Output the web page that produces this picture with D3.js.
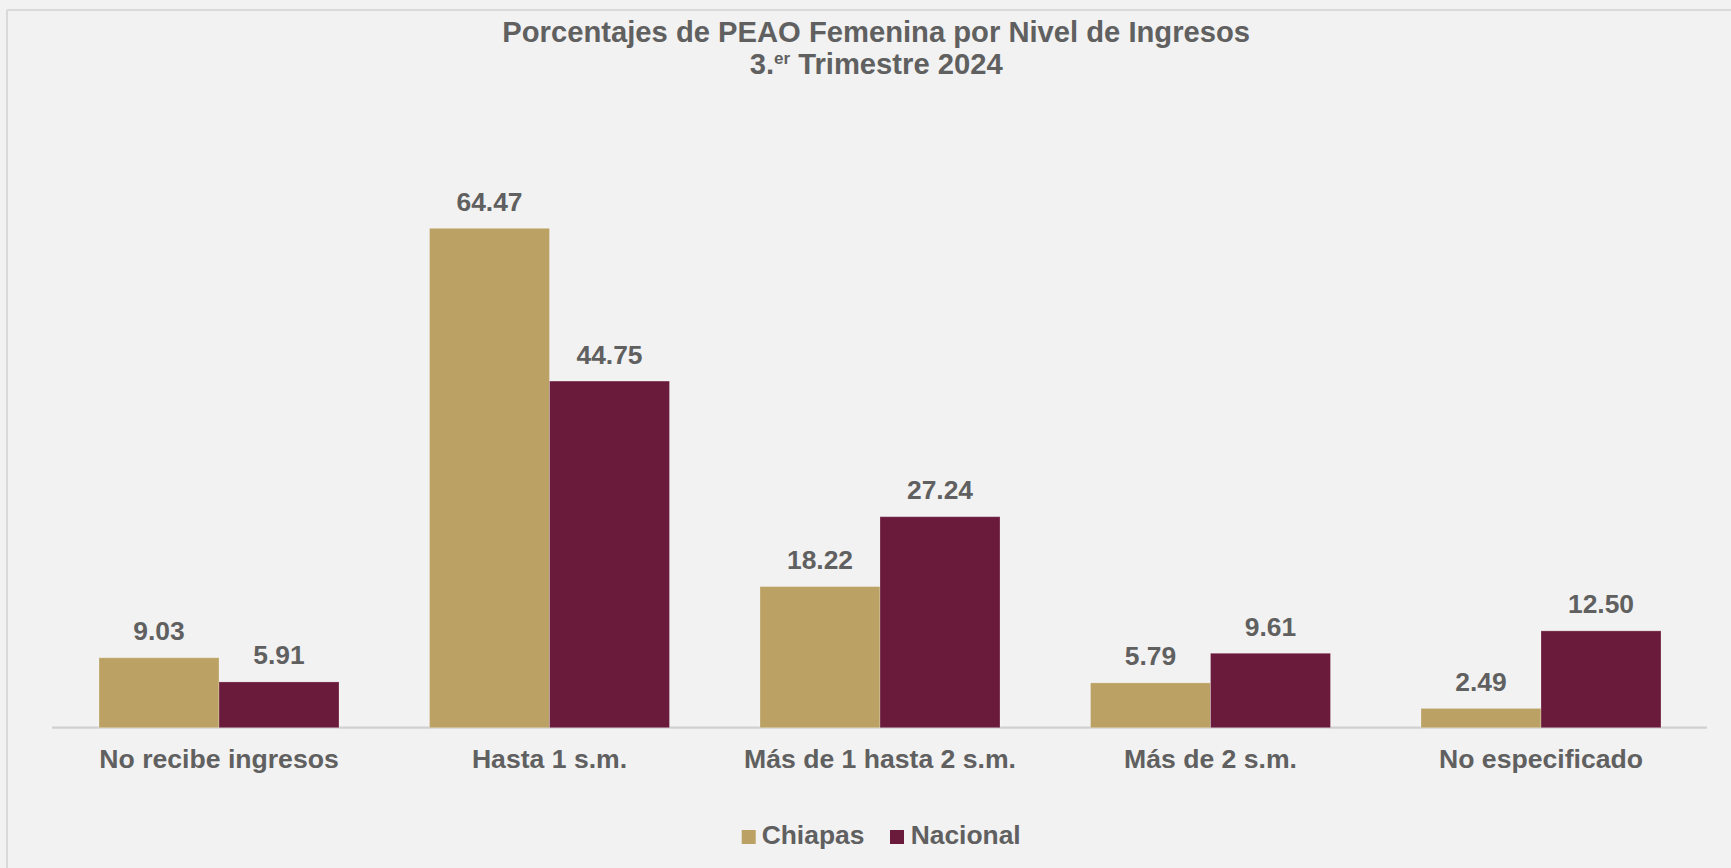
<!DOCTYPE html>
<html>
<head>
<meta charset="utf-8">
<script src="https://cdn.jsdelivr.net/npm/d3@7"></script>
<style>
  html, body { margin: 0; padding: 0; background: #f2f2f2; }
  svg { display: block; }
</style>
</head>
<body>
<svg id="chart" width="1731" height="868"></svg>
<script>
// ---- data ----
const categories = ["No recibe ingresos", "Hasta 1 s.m.", "Más de 1 hasta 2 s.m.", "Más de 2 s.m.", "No especificado"];
const seriesNames = ["Chiapas", "Nacional"];
const chiapasValues = [9.03, 64.47, 18.22, 5.79, 2.49];
const nacionalValues = [5.91, 44.75, 27.24, 9.61, 12.50];
const seriesColors = ["#bba264", "#6a1a3a"];
const titleLine1 = "Porcentajes de PEAO Femenina por Nivel de Ingresos";
const titleLine2Parts = ["3.", "er", " Trimestre 2024"];

// ---- layout ----
const W = 1731, H = 868;
const textColor = "#606060";
const font = "'Liberation Sans', Arial, Helvetica, sans-serif";
const baseY = 727.7;
const plotLeft = 53.75, plotRight = 1706.25;
const groupGap = 45.25;

const svg = d3.select("#chart");
svg.append("rect").attr("width", W).attr("height", H).attr("fill", "#f2f2f2");

// frame (top + left lines)
svg.append("line").attr("x1", 7).attr("x2", W).attr("y1", 10).attr("y2", 10)
  .attr("stroke", "#d9d9d9").attr("stroke-width", 2);
svg.append("line").attr("x1", 7).attr("x2", 7).attr("y1", 10).attr("y2", H)
  .attr("stroke", "#d9d9d9").attr("stroke-width", 2);

const x0 = d3.scaleBand().domain(categories).range([plotLeft, plotRight]).padding(0);
const x1 = d3.scaleBand().domain(seriesNames).range([groupGap, x0.bandwidth() - groupGap]).padding(0);
const pxPerUnit = 7.746;
const y = d3.scaleLinear().domain([0, 70]).range([baseY, baseY - 70 * pxPerUnit]);
const color = d3.scaleOrdinal().domain(seriesNames).range(seriesColors);

const rows = categories.map((c, i) => ({
  cat: c,
  vals: [
    { s: seriesNames[0], v: chiapasValues[i] },
    { s: seriesNames[1], v: nacionalValues[i] }
  ]
}));

// x axis
const axis = svg.append("g").attr("transform", `translate(0,${baseY})`)
  .call(d3.axisBottom(x0).tickSize(0).tickPadding(0));
axis.select(".domain").attr("stroke", "#d0d0d0").attr("stroke-width", 2.2)
  .attr("d", `M52,0H1707`);
axis.selectAll(".tick text")
  .attr("y", 40).attr("dy", 0)
  .attr("font-family", font)
  .attr("font-weight", "bold")
  .attr("font-size", "26.6px")
  .attr("fill", textColor);

const groups = svg.append("g").selectAll("g").data(rows).join("g")
  .attr("transform", d => `translate(${x0(d.cat)},0)`);

groups.selectAll("rect").data(d => d.vals).join("rect")
  .attr("x", d => x1(d.s))
  .attr("width", x1.bandwidth())
  .attr("y", d => y(d.v))
  .attr("height", d => y(0) - y(d.v))
  .attr("fill", d => color(d.s))
  .attr("stroke", "rgba(255,255,255,0.25)")
  .attr("stroke-width", 1);

groups.selectAll("text.val").data(d => d.vals).join("text")
  .attr("class", "val")
  .attr("x", d => x1(d.s) + x1.bandwidth() / 2)
  .attr("y", d => y(d.v) - 17.5)
  .attr("text-anchor", "middle")
  .attr("font-family", font)
  .attr("font-weight", "bold")
  .attr("font-size", "26.4px")
  .attr("fill", textColor)
  .text(d => d.v.toFixed(2));

// title
const cx = 876.2;
svg.append("text")
  .attr("x", cx).attr("y", 42.3)
  .attr("text-anchor", "middle")
  .attr("font-family", font).attr("font-weight", "bold")
  .attr("font-size", "29.2px").attr("fill", textColor)
  .text(titleLine1);
const t2 = svg.append("text")
  .attr("x", cx).attr("y", 74)
  .attr("text-anchor", "middle")
  .attr("font-family", font).attr("font-weight", "bold")
  .attr("font-size", "29.2px").attr("fill", textColor);
t2.append("tspan").text(titleLine2Parts[0]);
t2.append("tspan").attr("dy", -10).attr("font-size", "17px").text(titleLine2Parts[1]);
t2.append("tspan").attr("dy", 10).text(titleLine2Parts[2]);

// legend
const legendItems = [
  { name: seriesNames[0], sx: 741.7, tx: 761.7 },
  { name: seriesNames[1], sx: 890, tx: 910.7 }
];
const lg = svg.append("g");
lg.selectAll("rect").data(legendItems).join("rect")
  .attr("x", d => d.sx).attr("y", 830).attr("width", 14).attr("height", 14)
  .attr("fill", d => color(d.name));
lg.selectAll("text").data(legendItems).join("text")
  .attr("x", d => d.tx).attr("y", 844.3)
  .attr("font-family", font).attr("font-weight", "bold")
  .attr("font-size", "26.4px").attr("fill", textColor)
  .text(d => d.name);
</script>
</body>
</html>
